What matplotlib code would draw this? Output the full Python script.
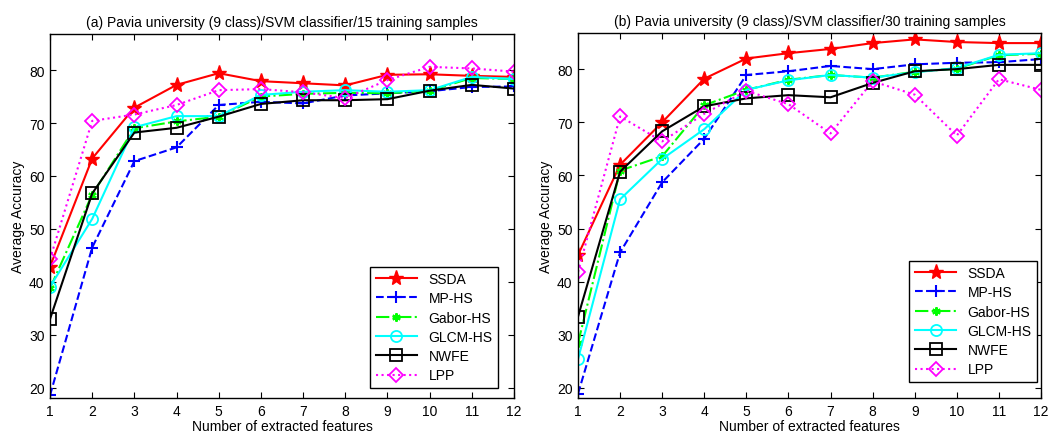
import matplotlib
matplotlib.use("Agg")
import matplotlib.pyplot as plt

features = list(range(1, 13))
methods = ["SSDA", "MP-HS", "Gabor-HS", "GLCM-HS", "NWFE", "LPP"]

# (a) 15 training samples
a_ssda  = [42.9, 63.3, 72.9, 77.2, 79.4, 77.9, 77.5, 77.1, 79.1, 79.2, 78.9, 78.7]
a_mp    = [18.6, 46.5, 62.8, 65.4, 73.4, 74.0, 73.7, 75.2, 75.6, 76.0, 76.8, 76.9]
a_gabor = [38.8, 56.5, 69.0, 70.3, 71.2, 75.0, 75.5, 75.7, 75.6, 76.1, 78.5, 78.3]
a_glcm  = [39.1, 51.9, 69.2, 71.3, 71.3, 75.3, 75.9, 76.2, 75.9, 76.2, 78.7, 78.3]
a_nwfe  = [33.0, 56.7, 68.2, 69.1, 71.2, 73.6, 74.3, 74.3, 74.5, 76.1, 77.2, 76.5]
a_lpp   = [44.3, 70.4, 71.6, 73.4, 76.2, 76.4, 75.8, 74.7, 78.1, 80.6, 80.3, 79.7]

# (b) 30 training samples
b_ssda  = [45.0, 62.0, 70.0, 78.2, 82.0, 83.0, 83.8, 84.9, 85.6, 85.1, 84.9, 84.9]
b_mp    = [18.9, 45.5, 58.7, 66.9, 78.9, 79.6, 80.6, 80.0, 80.9, 81.2, 81.3, 81.9]
b_gabor = [28.4, 60.9, 63.6, 73.2, 76.1, 78.0, 78.9, 78.4, 79.5, 80.1, 82.6, 82.9]
b_glcm  = [25.4, 55.5, 63.1, 68.7, 76.1, 77.9, 78.9, 78.4, 79.4, 80.2, 82.7, 83.0]
b_nwfe  = [33.4, 60.7, 68.3, 73.0, 74.5, 75.1, 74.7, 77.4, 79.6, 80.0, 80.8, 80.8]
b_lpp   = [41.8, 71.1, 66.4, 71.6, 75.9, 73.4, 67.9, 77.7, 75.2, 67.5, 78.1, 76.1]

titles = ["(a) Pavia university (9 class)/SVM classifier/15 training samples",
          "(b) Pavia university (9 class)/SVM classifier/30 training samples"]
xlabel = "Number of extracted features"
ylabel = "Average Accuracy"
yticks = [20, 30, 40, 50, 60, 70, 80]

styles = [
    dict(color="#ff0000", ls="-", marker="*", ms=11, mfc="#ff0000", mec="#ff0000"),
    dict(color="#0000ff", ls="--", marker="+", ms=9, mew=1.5),
    dict(color="#00ff00", ls="-.", marker=(6, 2, 0), ms=6, mew=1.5, mfc="#00ff00", mec="#00ff00"),
    dict(color="#00ffff", ls="-", marker="o", ms=8, mfc="none", mew=1.3),
    dict(color="#000000", ls="-", marker="s", ms=8, mfc="none", mew=1.3),
    dict(color="#ff00ff", ls=":", marker="D", ms=7, mfc="none", mew=1.3),
]

plt.rcParams['font.family'] = ['Liberation Sans', 'DejaVu Sans']
fig = plt.figure(figsize=(10.49, 4.35), dpi=100)
ax1 = fig.add_axes([50/1049, 1-399/435, 464/1049, 364/435])
ax2 = fig.add_axes([578/1049, 1-399/435, 463/1049, 365/435])

data = [[a_ssda, a_mp, a_gabor, a_glcm, a_nwfe, a_lpp],
        [b_ssda, b_mp, b_gabor, b_glcm, b_nwfe, b_lpp]]
anchors = [(1 - 16/464, 10/364), (1 - 4/463, 16/365)]

for k, ax in enumerate([ax1, ax2]):
    for name, series, st in zip(methods, data[k], styles):
        ax.plot(features, series, lw=1.5, label=name, **st)
    ax.set_xlim(1, 12)
    ax.set_ylim(18.1, 86.8)
    ax.set_xticks(features)
    ax.set_yticks(yticks)
    ax.tick_params(direction="in", top=True, right=True, labelsize=10, length=4, pad=4)
    ax.set_title(titles[k], fontsize=10, pad=6)
    ax.set_xlabel(xlabel, fontsize=10, labelpad=1)
    ax.set_ylabel(ylabel, fontsize=10, labelpad=3)
    for sp in ax.spines.values():
        sp.set_linewidth(1.0)
    leg = ax.legend(loc="lower right", fontsize=10, fancybox=False, framealpha=1,
                    edgecolor="black", handlelength=3.0, labelspacing=0.38,
                    borderaxespad=0, bbox_to_anchor=anchors[k])
    leg.get_frame().set_linewidth(1.0)

fig.savefig("out.png", dpi=100)
